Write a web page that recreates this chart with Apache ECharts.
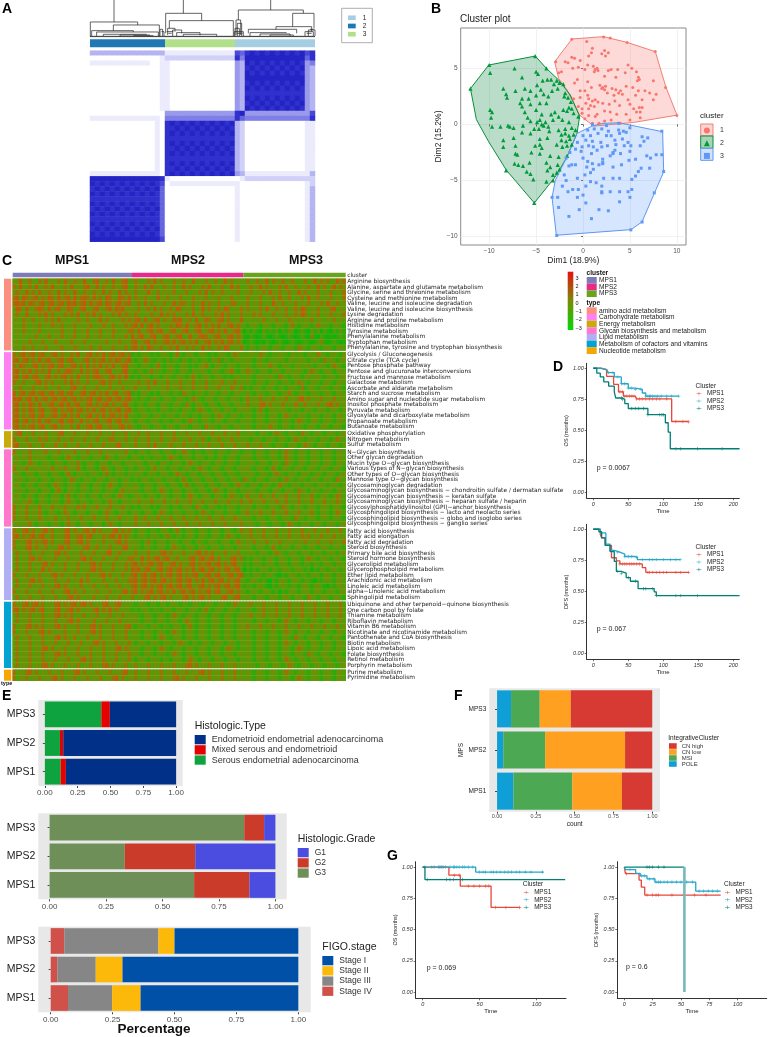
<!DOCTYPE html>
<html><head><meta charset="utf-8">
<style>html,body{margin:0;padding:0;background:#fff}#c{width:768px;height:1037px}</style>
<script src="https://cdn.jsdelivr.net/npm/echarts@6/dist/echarts.min.js"></script>
</head><body><div id="c"></div>
<script>
// ---------- Panel A data ----------
const consensusLevels = [
"33333333333333|3|1|1111111111111|7|6|898989898989|7|8",
"00000000000000|1|2|2222222222222|8|5|999999999999|6|8",
"11111111111100|1|1|0000000000000|4|3|989898989898|4|5",
"00000000000000|1|1|0000000000000|4|3|898989898989|4|3",
"00000000000000|1|1|0000000000000|4|3|989898989898|4|3",
"00000000000000|1|1|0000000000000|4|3|999999999999|4|3",
"00000000000000|1|1|0000000000000|4|3|898989898989|4|3",
"00000000000000|1|1|0000000000000|4|3|989898989898|4|3",
"00000000000000|1|1|0000000000000|4|3|888888888888|4|3",
"00000000000000|1|1|0000000000000|4|3|989898989898|4|3",
"00000000000000|1|1|0000000000000|4|3|898989898989|4|3",
"00000000000000|1|1|0000000000000|4|3|989898989898|4|3",
"00000000000000|0|4|4444444444444|8|9|444444444444|4|7",
"11111111111111|0|5|5555555555555|8|6|555555555555|5|8",
"00000000000001|0|8|9898989898989|3|2|000000000000|1|1",
"00000000000001|0|8|8989898989898|3|2|000000000000|1|1",
"00000000000001|0|8|9898989898989|3|2|000000000000|1|1",
"00000000000001|0|8|8888888888888|3|2|000000000000|1|1",
"00000000000001|0|8|9898989898989|3|2|000000000000|1|1",
"00000000000001|0|8|8989898989898|3|2|000000000000|1|1",
"00000000000001|0|8|9898989898989|3|2|000000000000|1|1",
"00000000000001|0|8|8888888888888|3|2|000000000000|1|1",
"00000000000001|0|8|9898989898989|3|2|000000000000|1|1",
"00000000000001|0|8|8989898989898|3|2|000000000000|1|1",
"11111111111111|0|8|9898989898989|4|3|111111111111|1|3",
"99999999999999|8|1|0000000000000|0|1|222222222222|2|2",
"98989898989898|7|0|1111111111111|1|0|000000000000|1|2",
"89898989898989|6|0|0000000000000|1|0|000000000000|1|3",
"98989898989898|6|0|0000000000000|1|0|000000000000|1|3",
"88888888888888|6|0|0000000000000|1|0|000000000000|1|3",
"98989898989898|6|0|0000000000000|1|0|000000000000|1|3",
"89898989898989|6|0|0000000000000|1|0|000000000000|1|3",
"98989898989898|6|0|0000000000000|1|0|000000000000|1|3",
"88888888888888|6|0|0000000000000|1|0|000000000000|1|3",
"98989898989898|6|0|0000000000000|1|0|000000000000|1|3",
"89898989898989|6|0|0000000000000|1|0|000000000000|1|3",
"98989898989898|6|0|0000000000000|1|0|000000000000|1|3",
"99999999999999|7|0|0000000000000|1|0|000000000000|1|3"
];
const consensusCounts = [75, 70, 80];
const consensusTree = [
[342,0,342,66],[550,0,550,40],[812,0,812,30],
[271,66,413,66],[271,66,271,110],[413,66,413,75],[340,75,478,75],[340,75,340,92],[478,75,478,108],[275,92,400,92],[275,92,275,108],[400,92,400,96],[290,96,475,96],[290,96,290,108],[475,96,475,110],[310,103,440,103],[310,103,310,108],[360,105,450,105],[360,105,360,108],[400,107,460,107],[480,88,488,88],[480,88,480,108],[488,88,488,108],[484,95,492,95],[492,95,492,108],
[497,40,605,40],[497,40,497,100],[605,40,605,62],[508,62,700,62],[508,62,508,85],[700,62,700,108],[503,85,525,85],[503,85,503,105],[525,85,525,95],[518,90,545,90],[518,90,518,108],[545,90,545,100],[530,98,600,98],[530,98,530,108],[600,98,600,106],[550,103,650,103],[550,103,550,108],[650,103,650,108],[500,95,520,95],[505,100,515,100],
[715,30,910,30],[715,30,715,60],[910,30,910,40],[878,40,942,40],[878,40,878,80],[942,40,942,85],[828,80,935,80],[828,80,828,88],[935,80,935,95],[745,88,890,88],[745,88,745,100],[890,88,890,100],[708,60,722,60],[708,60,708,105],[722,60,722,105],[712,70,725,70],[712,70,712,108],[725,70,725,108],[705,85,718,85],[705,85,705,108],[718,85,718,108],[703,95,730,95],[703,95,703,108],[730,95,730,108],[710,100,728,100],[750,98,860,98],[750,98,750,108],[780,102,870,102],[780,102,780,108],[870,102,870,108],[810,105,880,105],[810,105,810,108],[880,105,880,108],[915,95,940,95],[915,95,915,108],[940,95,940,108],[925,90,945,90],[925,90,925,108],[945,90,945,108],[920,100,935,100],[930,88,943,88],
[270,110,945,110],[270,109,945,109]
];

// ---------- Panel B data ----------
const hull1 = [[-3.02,5.6],[-1.17,7.62],[2.2,7.83],[2.91,7.68],[4.69,7.32],[7.71,6.49],[8.85,3.3],[10.02,0.83],[5.4,0.18],[1.14,-0.15],[-0.36,0.83],[-1.7,3.07],[-2.6,4.1]];
const hull2 = [[-12,3.2],[-10.05,5.3],[-5.08,6.1],[-3.91,5],[-2.59,3.96],[-1.35,2.62],[-0.36,0.74],[-0.64,-0.8],[-1.7,-2.89],[-2.95,-4.67],[-5.19,-7],[-8.17,-4.08],[-10.05,-1.55],[-11.37,0.44]];
const hull3 = [[-3.3,-6.52],[-2.84,-9.88],[5.12,-9.38],[6.29,-8.69],[7.64,-6.07],[8.6,-4.23],[8.49,-0.65],[3.8,0.15],[2.02,0.09],[0.96,-0.15],[-0.64,-0.8],[-1.7,-2.89],[-2.95,-4.97]];
const points1 = [[-2.9,5.6],[-1.2,7.6],[0.4,7.4],[2.2,7.8],[2.9,7.7],[4.7,7.3],[7.7,6.5],[8.8,3.3],[10,0.8],[1,6.8],[0.9,6.4],[0.6,6.1],[2,6.3],[2.3,6.6],[2.7,6.4],[2.4,6.1],[-1.2,6],[-0.9,5.9],[-1.9,5.6],[-1.6,5.5],[-0.3,5.7],[0.5,5.3],[-0.5,5.1],[-1.1,5],[-2.6,4.6],[-2.3,4.7],[0.2,4.9],[1.1,5.2],[1.3,4.9],[1.5,5],[1.6,4.8],[1.2,4.7],[2.7,4.8],[3,4.9],[3.7,4.9],[4.8,5.3],[5.2,5],[4.5,4.6],[5.7,4.7],[2.3,4.3],[3.5,4.2],[5.9,4.2],[6,4],[5.8,3.9],[7.5,3.9],[-0.6,4],[-0.9,3.7],[0.5,3.8],[0.9,3.3],[1.8,3.5],[2.1,3.3],[2.4,3.4],[2.3,3.1],[2,3.2],[3.1,3.2],[3.5,3.1],[4,3],[3.8,2.8],[4.2,2.7],[3.3,2.6],[2.6,2.8],[4.6,3.4],[5.3,3.3],[5.9,3],[6.6,3],[7.1,2.8],[7.8,2.7],[5.6,2.6],[4.8,2.2],[6.3,2.2],[7.5,2.2],[-0.3,3],[0.2,3],[0.5,2.6],[-0.3,2.4],[-1,2.3],[0.6,2.3],[1,2.1],[1.3,2.2],[1.6,2],[0.3,1.9],[0.8,1.7],[-0.5,1.6],[-0.1,1.4],[0.6,1.4],[1.2,1.6],[2.1,1.9],[2.8,1.8],[3.4,2.1],[3.9,1.7],[5,1.8],[5.4,1.4],[6,1.5],[6.3,1.5],[2.3,1.2],[2.9,1.1],[3.6,0.9],[4.6,0.9],[5.7,1.1],[6.1,1.1],[6.1,0.6],[5,0.4],[1.3,0.7],[1.5,0.9],[0.6,0.8],[0.2,0.5],[-0.1,1],[2.3,0.3],[3,0.4],[1,0.1],[1.7,0.1],[4,0.1]];
const points2 = [[-12,3.2],[-10,5.3],[-5.1,6.1],[-7.3,5],[-5,4.7],[-4.8,4.5],[-9.9,4.6],[-6.5,4.2],[-3.9,5],[-4.3,3.9],[-3.8,4],[-3.4,4],[-8.5,3.2],[-7.2,3],[-6.2,3.2],[-5.6,3],[-4.9,3.5],[-4.5,3.1],[-3.1,3.6],[-2.8,3.9],[-2.5,3.7],[-2.1,3.6],[-3.3,3],[-2.7,3.2],[-1.9,2.8],[-2,2.5],[-1.6,2.4],[-1.3,2],[-8.2,2.7],[-8.1,2.4],[-6.5,2.3],[-5.8,2.3],[-5,2.6],[-4.2,2.7],[-3.7,2.5],[-6.7,1.9],[-6.5,1.6],[-5.6,1.8],[-4.6,1.9],[-3.9,1.9],[-9.9,1.3],[-9.7,1.1],[-9.8,0.6],[-6.2,1.1],[-5,1.3],[-4.4,0.9],[-3.4,0.9],[-3,1.1],[-2.1,1.3],[-1.7,1.2],[-1.5,1.5],[-1.2,1.4],[-1,1],[-2.6,0.7],[-0.5,0.7],[-5.9,0.6],[-5.6,0.3],[-4.9,0.2],[-4.6,0.4],[-4,0.2],[-4.4,0],[-4.2,-0.1],[-3.7,-0.2],[-3.2,0.4],[-2.2,0.4],[-1.5,0.2],[-9.7,-0.2],[-8.8,-0.2],[-8,-0.1],[-7.8,-0.2],[-7.4,-0.3],[-6.4,-0.1],[-5.2,-0.4],[-4.7,-0.4],[-3.6,-0.6],[-2.6,-0.5],[-1.9,-0.4],[-1.2,-0.3],[-0.8,-0.5],[-6.5,-0.7],[-5.6,-0.8],[-2.3,-0.9],[-1.9,-0.8],[-1.5,-1],[-1,-0.9],[-8.5,-1.4],[-7.4,-1.2],[-4.6,-1.3],[-3.8,-1.2],[-2.3,-1.4],[-1.8,-1.5],[-1.4,-1.3],[-8.5,-2],[-7.2,-1.9],[-5.1,-1.9],[-4.6,-1.8],[-4.4,-2.1],[-2.8,-1.8],[-2.2,-2],[-1.7,-1.9],[-1.2,-1.8],[-7.2,-2.6],[-7,-2.7],[-5.5,-2.5],[-4.6,-2.6],[-3.5,-2.8],[-2.6,-2.9],[-1.7,-2.8],[-7.3,-3.5],[-6.9,-3.6],[-6.4,-3.7],[-5.7,-3.4],[-3.9,-3.4],[-3.5,-3.8],[-2.7,-3.6],[-8.2,-4.1],[-6,-4.2],[-5.6,-4.4],[-3.8,-4.1],[-3.2,-4.5],[-2.8,-4.3],[-2.5,-4],[-5.3,-4.9],[-3.9,-5.1],[-3.2,-5],[-5.2,-7]];
const points3 = [[-3.3,-6.5],[-2.8,-9.9],[5.1,-9.4],[6.3,-8.7],[7.6,-6.1],[8.6,-4.2],[8.4,-2.7],[8.4,-0.6],[-2.6,-7.4],[-1.5,-8.2],[-0.4,-7.6],[0.9,-8.4],[1.7,-7.6],[2.7,-7.7],[3.9,-6.9],[5,-6.5],[-2.7,-6.5],[-1.6,-6],[-0.6,-6.5],[0,-6.3],[0.3,-7],[2,-6.1],[2.9,-6],[3.9,-6],[4.8,-6],[5.2,-5.8],[-2.2,-5.5],[-1.8,-5],[-1.1,-5.8],[-0.5,-5.8],[0.3,-5.5],[0.8,-5.1],[1.4,-5.2],[2,-5.5],[2,-6],[-2,-4.5],[-0.6,-4.8],[0.2,-4.5],[0.8,-4.3],[1.1,-4],[2.2,-4.8],[3.2,-4.8],[3.9,-4.8],[5.2,-4.9],[5.6,-4.6],[-1.5,-3.7],[-1.2,-3.6],[0.4,-3.8],[1,-3.5],[1.7,-3.6],[2.1,-3.4],[2.1,-3.5],[3.2,-3.8],[4.1,-3.6],[5.9,-4.2],[6.2,-3.9],[7.1,-3.9],[-1.8,-3],[-0.8,-3.6],[0,-3],[0.5,-3.3],[2.1,-3.1],[2.9,-2.8],[3.2,-2.5],[4.9,-3.2],[5.6,-3.1],[7.2,-3],[7.8,-2.7],[-1.4,-2.5],[-0.2,-2.4],[0.9,-2.6],[1.5,-2.3],[3.2,-2.6],[3.4,-2.3],[4,-2.6],[5,-2.4],[6.8,-2.8],[-0.8,-2.2],[-0.1,-2],[0.6,-1.9],[1.1,-2],[2,-2],[2.6,-1.9],[3.5,-1.8],[4.4,-1.9],[5.1,-1.9],[6.1,-1.9],[-0.6,-1.6],[0.3,-1.4],[1,-1.5],[1.9,-1.6],[3.4,-1.4],[4.2,-1.3],[4.8,-1.6],[6.5,-1.5],[0,-1],[0.8,-1],[1.6,-0.8],[2.5,-1],[3,-1],[3.9,-0.8],[4.6,-0.7],[6.3,-1.1],[6.9,-1.2],[0.5,-0.5],[1.2,-0.4],[2,-0.4],[2.7,-0.6],[3.8,-0.5],[4.3,-0.6],[5,-0.3],[1,0],[2.5,-0.1],[3.8,0.1]];

// ---------- Panel C data ----------
const pathwayNames = [
["Arginine biosynthesis","Alanine, aspartate and glutamate metabolism","Glycine, serine and threonine metabolism","Cysteine and methionine metabolism","Valine, leucine and isoleucine degradation","Valine, leucine and isoleucine biosynthesis","Lysine degradation","Arginine and proline metabolism","Histidine metabolism","Tyrosine metabolism","Phenylalanine metabolism","Tryptophan metabolism","Phenylalanine, tyrosine and tryptophan biosynthesis"],
["Glycolysis / Gluconeogenesis","Citrate cycle (TCA cycle)","Pentose phosphate pathway","Pentose and glucuronate interconversions","Fructose and mannose metabolism","Galactose metabolism","Ascorbate and aldarate metabolism","Starch and sucrose metabolism","Amino sugar and nucleotide sugar metabolism","Inositol phosphate metabolism","Pyruvate metabolism","Glyoxylate and dicarboxylate metabolism","Propanoate metabolism","Butanoate metabolism"],
["Oxidative phosphorylation","Nitrogen metabolism","Sulfur metabolism"],
["N−Glycan biosynthesis","Other glycan degradation","Mucin type O−glycan biosynthesis","Various types of N−glycan biosynthesis","Other types of O−glycan biosynthesis","Mannose type O−glycan biosynthesis","Glycosaminoglycan degradation","Glycosaminoglycan biosynthesis − chondroitin sulfate / dermatan sulfate","Glycosaminoglycan biosynthesis − keratan sulfate","Glycosaminoglycan biosynthesis − heparan sulfate / heparin","Glycosylphosphatidylinositol (GPI)−anchor biosynthesis","Glycosphingolipid biosynthesis − lacto and neolacto series","Glycosphingolipid biosynthesis − globo and isoglobo series","Glycosphingolipid biosynthesis − ganglio series"],
["Fatty acid biosynthesis","Fatty acid elongation","Fatty acid degradation","Steroid biosynthesis","Primary bile acid biosynthesis","Steroid hormone biosynthesis","Glycerolipid metabolism","Glycerophospholipid metabolism","Ether lipid metabolism","Arachidonic acid metabolism","Linoleic acid metabolism","alpha−Linolenic acid metabolism","Sphingolipid metabolism"],
["Ubiquinone and other terpenoid−quinone biosynthesis","One carbon pool by folate","Thiamine metabolism","Riboflavin metabolism","Vitamin B6 metabolism","Nicotinate and nicotinamide metabolism","Pantothenate and CoA biosynthesis","Biotin metabolism","Lipoic acid metabolism","Folate biosynthesis","Retinol metabolism","Porphyrin metabolism"],
["Purine metabolism","Pyrimidine metabolism"]
];
const typeNames = ["amino acid metabolism","Carbohydrate metabolism","Energy metabolism","Glycan biosynthesis and metabolism","Lipid metabolism","Metabolism of cofactors and vitamins","Nucleotide metabolism"];
const typeColors = ["#fb8f80","#ff80f2","#c8aa08","#ff78cc","#b0aef5","#00a3d2","#f6a600"];
const heatGroup1 = [
"3493483284934382943843942893482934892|3842384938242843842934284382493824384|38248349284392483248249384823948",
"8394382934849343829343894392843843892|2843929342843824938243849243824938243|24834938243829438243842938249384",
"3843948293484392843942843843928439284|3824394283434824382438292843842438248|43824382943824823948243824382438",
"8939848938498394893948983948298439849|2843824294382438242834382438243824294|38243824382943824382943824382438",
"8989398489389489398948939489398489489|2382938243824938843824938438243882438|38243824294382438243824382943824",
"3982934898394893498348934893489398934|4382482938248398243824938248398243824|38243829438438248398243824389243",
"3842934384938243848392484938243849384|3842438249384824382934824384938243843|24384824382438248398243824382438",
"3428438243848393424384383249384243848|4892934892843989348293498348938243934|23424382438243843424382432438243",
"3428424382438438243824348243843824384|8939289383428398493489283849348938438|21342134213421382134213843213421",
"3428424382342438243824382438243842438|8393489389238934893489348938493489384|02121031213021420121031302102131",
"2434243824382438243824382438243824382|9389348934893489239348983489348938493|10210121012101210121061021010121",
"3424382438243842438243824324382438243|8934893843894938938493489384938938493|01210102101210121012101261012101",
"3428438243824348243842438248243824382|8938298348248393483824938248398243824|21421342134213421842134213421342"
];
const heatGroup2 = [
"8389489389348938438493489384938948938|1213421213421382134213421213421384213|32432842132432142321423842134214",
"8938938493893489389243893848938498389|2132842132141321421321321428132134213|34213421323421342342134218342134",
"8398438938489389348938293849384934893|3213421382134213421213482134213421342|24213423842134213423421342138421",
"8938493848393483898439384893489243893|2142138242134213421423421342134821342|38421342134213423421384213421342",
"8938938943893848938293483898438938493|1213421321342134213821342134212134213|24213423421842134213423421342134",
"8438243893848243849384382438938438243|4382482934282438243824282434824382438|24213421342134213842134213421342",
"4382438243824382438943824382438243824|3824284324382438243824382438242843824|12134213421321342181342134213421",
"9389389489389489389348938938493893489|1213421213421321842134213421342134213|24213421342134821342134213421342",
"9893893948938948938938489389389489389|3214213421342134213842134213421342134|38243824382438243893824382438243",
"8938498393489389493893489384893843893|2132134213421342182134213421342134213|38243893824382438438243824893824",
"8938498389348938489389384938938489389|2134213213421321342138421342134213421|34213821342342134213421342134213",
"8938489389348938938493489384938938493|3213421342134213421321342138421342134|24213421342138421342134213421342",
"8938938493893489389349384893489389384|2134213421321342138421342134213421321|24213421342134213842134213421342",
"8938489389348938438293489389348438938|3213421342134213421342183421342134213|24213423842134213421342134213421"
];
const heatGroup3 = [
"4892438243824389243824382438243824382|4382482438243824282438243824382438243|23421342138421342184213421342134",
"8243824384824382438243824382438824382|3824382438243842438243821438243824382|32134213421342138421342134213842",
"8924382438243843824382438243824389243|3824382934248243824382438243824382438|38243824213421342138421342134213"
];
const heatGroup4 = [
"8324382434824382434824382438243424382|2134213421342132842132134213421342134|24213421342138421342134213421342",
"3424382434213421384213421342184213421|3421321342138421342134213214213421342|34213421342138421342134213421342",
"3421384213421342134282134213421342134|2342134213421342138421342134213421342|23421342134218421342134213421342",
"8243824342438243824382134213842134213|2134213824213421342138421342134213421|34213421382134213421342134213421",
"3421342134213421382134213421382134213|2342134213421384213421342134213421342|23421342138421342134213421342134",
"2342134213421342138421342134213421342|1213421342134213821342134213421342134|84213421342138421342134213421842",
"3421342134213842134213421342138421342|3421342134213421382134213421342138421|21342134213842134213421342134213",
"2342134213421382134213421342134213824|3421342138421342134213421384213421342|23421342134213421842134213421342",
"3421342134213421382134213421342138421|2342134213421342138421342134213842134|48243824382438243824382134213842",
"3424382134213421384213421342138421342|4382438243824382438243824382438243824|34824382438438243824382438243842",
"8243824382438243824384824382438243824|1213421213421321342184213421213421342|24213421342184213421342134213421",
"8243824382134213842134213421384213421|3421342138421342134213842134213421342|48243824382438243824382134213842",
"8243824384243824382438243824382438243|3843824382438243824382438243824384382|24213421342134218421342134213421",
"3424382134213421384213421342138421342|3824382438243824382438243824382434824|23421342134213842134213421342134"
];
const heatGroup5 = [
"8438938438948243893843894938243893848|2134213213421382134213421342134213821|34824382438243824382438243824382",
"8938489389348243893489389243848939384|2134213421382132134213421342138421342|34824382438243824384824382438243",
"8243893848938243893489384243824389384|3421382134213421342134213421342138421|24382438243824342438243824382438",
"8243893843824389384243893482438243893|3421342134213842134213421342134213421|24213421382134213421342134213421",
"3824382438243893842438243824389348243|3824382438948243824389384824382438243|23421342138421342134213421342134",
"3824389384243824382438948243824382438|8439384894893482438938948938243893848|12134213421342134213842134213421",
"3824382438938243824382438938243824384|8938489389348938438938489389384893489|12134213421342134213214213421342",
"3824382439384243824382438948243824382|9893893489389489384938948938489389348|02121342132134213421302142134213",
"8243824382438938243824382438938243824|8938948938489389384893489389348938948|12134213421021342132134213421342",
"3824389384243824382439384243824382438|8938948938948389489384938948938489389|21342131021342134213210213421342",
"3824382438243893842438243824382438243|8938938489389489389348938489389489389|13213421021342132134213421021342",
"8243824382438243893843824382438243893|8938489389384938948938489389348938489|21342134213021342134213421342134",
"3824382438243824389384243824382438243|8243893848938243893848938243893489384|24213421342134213421842134213421"
];
const heatGroup6 = [
"8438938948243893848938948243893489243|2134213214213421321342134213421384213|34824382438243824382438243824382",
"8938489389243893489384243893849384243|1213421321342134213421382134213421342|34213482438243824382438243824382",
"3824382438243893848243824382438243824|3421342134213842134213421342134213421|34824382438243824382438243824382",
"3824382438243824389384243824382438243|3421342134213421384213421342134213421|24213421342138421342134213421342",
"8243893848243893824382438938243824389|2134213421321342138213421342134213421|48243824382438243824382438243824",
"8243824389384243824382438938243824382|3421342134213842134213421342134213421|24213421342138421342134213421342",
"3824382438243893843824382438243824382|3421342138421342134213421342134213421|24213421342134218421342134213421",
"3824382438243824382438243893824382438|2134213421342138421321342134213421342|24213421342138421342134213421342",
"3824382438938243824382438243824389384|3421342138421342134213421342138421342|24213421342134213842134213421342",
"3824382438243893824382438243824382438|3421342134213842134213421342134213421|24213421342134213421842134213421",
"3824382438243824382438938243824382438|2134213421321342138421342134213421342|24213421342138421342134213421342",
"3824382438938243824382438243893824382|3824382438243824389382438243824382438|23421342134213842134213421342134"
];
const heatGroup7 = [
"8243893824382438243893824382438243893|3824382438243824382438938243824382438|24213421342138421342134213421342",
"8243824382438938243824382438243893824|3824382438243893824382438243824382438|24213421342134213842134213421342"
];
const heatGroups = [heatGroup1,heatGroup2,heatGroup3,heatGroup4,heatGroup5,heatGroup6,heatGroup7];
const clusterSizes = [37,35,32];
const clusterColors = ["#7d7bb8","#e7298a","#6aa31e"];
const colorbarTicks = ["3","2","1","0","−1","−2","−3"];

// ---------- Panel D / G data ----------
const osMPS1 = [[0,1],[10,.99],[19,.935],[29,.87],[36,.81],[43,.775],[60,.765],[62,.752],[112,.57],[136,.567]];
const osMPS2 = [[0,1],[12,.985],[20,.965],[30,.93],[40,.875],[50,.84],[60,.83],[70,.8],[75,.775],[122,.775]];
const osMPS3 = [[0,1],[5,.96],[10,.93],[15,.89],[22,.855],[30,.81],[32,.76],[42,.75],[45,.715],[50,.675],[78,.625],[103,.56],[107,.485],[110,.35],[209,.35]];
const dfsMPS1 = [[0,1],[10,.96],[12,.93],[17,.87],[26,.77],[33,.745],[38,.72],[70,.69],[75,.652],[136,.652]];
const dfsMPS2 = [[0,1],[10,.97],[18,.88],[24,.83],[30,.815],[38,.8],[45,.78],[60,.775],[63,.755],[124,.755]];
const dfsMPS3 = [[0,1],[8,.98],[12,.93],[17,.87],[24,.82],[30,.74],[33,.66],[40,.645],[47,.61],[53,.58],[64,.52],[87,.495],[90,.464],[209,.464]];
const gOsMPS1 = [[0,1],[23,.935],[33,.848],[60,.677],[85,.677]];
const gOsMPS2 = [[0,1],[46.5,.96],[106,.96]];
const gOsMPS3 = [[0,1],[2,.9],[125,.9]];
const gDfsMPS1 = [[0,1],[1,.947],[13,.896],[15,.84],[18,.776],[85,.776]];
const gDfsMPS2 = [[0,1],[1,.98],[10,.95],[14,.93],[20,.905],[27,.88],[63,.808],[85,.808]];
const gDfsMPS3 = [[0,1],[53,1]];
const gDfsDrop = [[53,1],[53,0]];
const censorOs = [[38,42,45,48,52,55,58,62,66,70,75,80,85,90,95,105,118,128,136],[22,28,35,40,45,50,55,60,68,75,78,80,82,85,88,92,97,105,112,122],[40,42,55,60,65,72,78,95,98,100,118,125,149,184]];
const censorDfs = [[38,42,45,48,52,55,58,62,66,78,80,85,90,95,100,105,118,125,136],[25,35,45,50,55,62,70,80,85,90,100,110,118,124],[35,40,50,60,72,75,85,90,118,125,149]];
const censorGOs = [[28,32,40,45,50,55,58,64,73,85],[2,8,10,14,15,16,17,18,20,24,27,28,30,32,35,37,40,44,50,53,55,60,62,65,68,72,75,78,82,85,90,95,105],[4,21,24,27,35]];
const censorGDfs = [[2,20,25,28,30,42,52,62,72],[5,15,18,22,26,28,30,32,35,38,42,46,50,55,60,66,70,74,78,82],[20,22,25,30,35]];
const kmNames = ["MPS1","MPS2","MPS3"];
const kmColors = ["#e8483a","#25a7c9","#007f75"];

// ---------- Panel E / F data ----------
const mpsCategories = ["MPS1","MPS2","MPS3"];
const typeSerous = [.12,.115,.43];
const typeMixed = [.04,.025,.065];
const typeEndo = [.84,.86,.505];
const gradeG3 = [.64,.333,.862];
const gradeG2 = [.245,.312,.088];
const gradeG1 = [.115,.355,.05];
const stageIV = [.07,.027,.055];
const stageIII = [.178,.155,.38];
const stageII = [.115,.108,.065];
const stageI = [.637,.71,.5];
const icPole = [.105,.04,.09];
const icMsi = [.38,.27,.185];
const icCnLow = [.32,.515,.2];
const icCnHigh = [.195,.175,.525];
const shareTicks = [0,.25,.5,.75,1];

// ---------- builders ----------
const FONT = '"Liberation Sans", Arial, sans-serif';
const grids=[],xs=[],ys=[],series=[],legends=[],graphics=[],visualMaps=[];
function panel(g,x,y){
  const i=grids.length;
  grids.push(Object.assign({outerBoundsMode:'none',containLabel:false,borderWidth:0},g));
  xs.push(Object.assign({gridIndex:i},x)); ys.push(Object.assign({gridIndex:i},y));
  return i;
}
function text(t,x,y,size,o){
  o=o||{};
  graphics.push({type:'text',silent:true,z:6,rotation:o.rot||0,x,y,style:{text:t,x:0,y:0,
    font:(o.weight?o.weight+' ':'')+size+'px '+FONT,fill:o.color||'#222',
    textAlign:o.align||'left',textVerticalAlign:'middle'}});
}
function rect(x,y,w,h,fill,stroke,z){
  graphics.push({type:'rect',silent:true,z:z||0,shape:{x,y,width:w,height:h},style:{fill,stroke:stroke||null,lineWidth:stroke?1:0}});
}

// Panel letters
[["A",2,9],["B",431,9],["C",2,261],["D",553,367],["E",2,696],["F",454,696],["G",387,856]].forEach(a=>text(a[0],a[1],a[2],14,{weight:'bold',color:'#000'}));

// ---------- Panel A ----------
(function(){
  const g=panel({left:90,top:0,width:225,height:37.3},
    {type:'value',min:270,max:945,show:false},{type:'value',min:0,max:112,inverse:true,show:false});
  series.push({type:'custom',silent:true,xAxisIndex:g,yAxisIndex:g,data:consensusTree,clip:false,
    renderItem:(p,api)=>{const a=api.coord([api.value(0),api.value(1)]),b=api.coord([api.value(2),api.value(3)]);
      return {type:'line',shape:{x1:a[0],y1:a[1],x2:b[0],y2:b[1]},style:{stroke:'#222',lineWidth:.7}};}});
  const b=panel({left:90,top:39.3,width:225,height:8},
    {type:'value',min:0,max:225,show:false},{type:'category',data:['annotation'],show:false});
  [['consensus 2',consensusCounts[0],'#1f78b4'],['consensus 3',consensusCounts[1],'#b2df8a'],['consensus 1',consensusCounts[2],'#a6cee3']].forEach(s=>{
    series.push({type:'bar',name:s[0],stack:'anno',silent:true,xAxisIndex:b,yAxisIndex:b,barWidth:'100%',data:[s[1]],itemStyle:{color:s[2]}});
  });
  const rows=consensusLevels.map(r=>r.replace(/\|/g,''));
  const h=panel({left:90,top:50.7,width:225,height:191},
    {type:'category',show:false,data:rows[0].split('').map((_,i)=>i)},
    {type:'category',show:false,inverse:true,data:rows.map((_,i)=>i)});
  const cells=[];
  rows.forEach((row,r)=>row.split('').forEach((c,k)=>cells.push([k,r,+c])));
  visualMaps.push({show:false,type:'continuous',seriesIndex:series.length,min:0,max:9,dimension:2,
    inRange:{color:['#ffffff','#ebebfc','#d0d0f8','#b4b4f2','#9a9aec','#7e7ee6','#6464de','#4848d6','#3030cc','#2424c4']}});
  series.push({type:'heatmap',silent:true,xAxisIndex:h,yAxisIndex:h,data:cells,progressive:0,emphasis:{disabled:true}});
  legends.push({left:341.7,top:8.3,orient:'vertical',selectedMode:false,itemWidth:7.7,itemHeight:4.7,itemGap:1.2,
    padding:[6,6,5,6.3],borderColor:'#999',borderWidth:.8,icon:'rect',
    data:['consensus 1','consensus 2','consensus 3'],formatter:n=>n.replace('consensus ',''),
    textStyle:{fontSize:6.5,color:'#222',fontFamily:FONT,padding:[0,0,0,2],lineHeight:7}});
})();

// ---------- Panel B ----------
(function(){
  const axisBase={type:'value',axisLine:{show:false},splitLine:{show:true,lineStyle:{color:'#ebebeb',width:.7}}};
  const fmt=v=>String(v).replace('-','−');
  const g=panel({left:460.7,top:28,width:225.3,height:217,show:true,borderWidth:1,borderColor:'#8a8a8a',backgroundColor:'#fff'},
    Object.assign({},axisBase,{min:-13.04,max:10.98,name:'Dim1 (18.9%)',nameLocation:'middle',nameGap:10,
      nameTextStyle:{fontSize:8.5,color:'#222',fontFamily:FONT},
      axisTick:{length:2,lineStyle:{color:'#666'},customValues:[-10,-5,0,5,10]},
      axisLabel:{fontSize:6.5,color:'#555',fontFamily:FONT,margin:3,customValues:[-10,-5,0,5,10],formatter:fmt}}),
    Object.assign({},axisBase,{min:-10.75,max:8.6,name:'Dim2 (15.2%)',nameLocation:'middle',nameGap:15,
      nameTextStyle:{fontSize:8.5,color:'#222',fontFamily:FONT},
      axisTick:{length:2,lineStyle:{color:'#666'},customValues:[-10,-5,0,5]},
      axisLabel:{fontSize:6.5,color:'#555',fontFamily:FONT,margin:3,customValues:[-10,-5,0,5],formatter:fmt}}));
  [[hull1,'rgba(248,118,109,.27)','#ef8079'],[hull2,'rgba(0,130,60,.27)','#0a8f3c'],[hull3,'rgba(97,156,255,.25)','#5e97f0']].forEach(h=>{
    series.push({type:'custom',silent:true,xAxisIndex:g,yAxisIndex:g,data:[0],
      renderItem:(p,api)=>({type:'polygon',shape:{points:h[0].map(q=>api.coord(q))},style:{fill:h[1],stroke:h[2],lineWidth:1}})});
  });
  [['cluster 1',points1,'circle',3,'#f8766d'],['cluster 2',points2,'triangle',4.2,'#019a3a'],['cluster 3',points3,'rect',3,'#5f98f5']].forEach(s=>{
    series.push({type:'scatter',name:s[0],silent:true,xAxisIndex:g,yAxisIndex:g,data:s[1],symbol:s[2],symbolSize:s[3],itemStyle:{color:s[4],opacity:1}});
  });
  text('Cluster plot',460,19,10);
  text('cluster',700,116,8);
  rect(700.7,124,12.3,12,'#fbd6d3','#ef8079');
  rect(700.7,136,12.3,12.3,'#a8d5b8','#0a8f3c');
  rect(700.7,148.3,12.3,12,'#d3e2fb','#5e97f0');
  legends.push({left:703.9,top:127,orient:'vertical',selectedMode:false,itemWidth:6,itemHeight:6,itemGap:5.7,padding:0,
    data:[{name:'cluster 1',icon:'circle'},{name:'cluster 2',icon:'triangle'},{name:'cluster 3',icon:'rect'}],
    formatter:n=>n.replace('cluster ',''),
    textStyle:{fontSize:7,color:'#333',fontFamily:FONT,padding:[0,0,0,5],lineHeight:6}});
})();

// ---------- Panel C ----------
(function(){
  const left=12.7,width=333,top=278.7,total=402,gap=0.3;
  const rowCount=pathwayNames.reduce((a,b)=>a+b.length,0);
  const units=rowCount+gap*(pathwayNames.length-1), rowH=total/units;
  const colTotal=clusterSizes.reduce((a,b)=>a+b,0);
  const colCats=Array.from({length:colTotal},(_,i)=>i);
  const labelStyle={fontSize:5.9,color:'#222',fontFamily:'"DejaVu Sans", sans-serif',margin:1.5};
  const cg=panel({left,top:272.7,width,height:4.6},
    {type:'value',min:0,max:colTotal,show:false},
    {type:'category',data:['cluster'],position:'right',axisLine:{show:false},axisTick:{show:false},axisLabel:labelStyle});
  clusterSizes.forEach((v,i)=>series.push({type:'bar',name:'strip '+i,stack:'strip',silent:true,xAxisIndex:cg,yAxisIndex:cg,barWidth:'100%',data:[v],itemStyle:{color:clusterColors[i]}}));
  const heatIdx=[];
  let y=top;
  const spans=[];
  let u=0;
  pathwayNames.forEach((names,gi)=>{
    const h=names.length*rowH;
    const g=panel({left,top:y,width,height:h,show:true,backgroundColor:'#7b8906',borderWidth:0},
      {type:'category',show:false,data:colCats},
      {type:'category',inverse:true,position:'right',data:names,axisLine:{show:false},axisTick:{show:false},
        axisLabel:Object.assign({interval:0},labelStyle)});
    const cells=[];
    heatGroups[gi].forEach((row,r)=>{
      const parts=row.split('|');let off=0;
      parts.forEach((p,pi)=>{for(let k=0;k<p.length&&k<clusterSizes[pi];k++)cells.push([off+k,r,+p[k]]);off+=clusterSizes[pi];});
    });
    heatIdx.push(series.length);
    series.push({type:'heatmap',silent:true,xAxisIndex:g,yAxisIndex:g,data:cells,progressive:0,emphasis:{disabled:true}});
    for(let r=1;r<names.length;r++) rect(left,y+r*rowH-.2,width,.5,'rgba(205,195,90,.4)',null,6);
    spans.push([u,u+names.length,gi]);
    u+=names.length+gap; y+=h+gap*rowH;
  });
  visualMaps.push({show:false,type:'continuous',seriesIndex:heatIdx,min:0,max:9,dimension:2,
    inRange:{color:['#0cb40c','#2ea80a','#4f9f08','#5f9807','#6f9006','#7a8a05','#857f06','#927806','#9e7106','#bc5c0a']}});
  const tg=panel({left:4,top,width:7.3,height:total},
    {type:'value',min:0,max:1,show:false},{type:'value',min:0,max:units,inverse:true,show:false});
  series.push({type:'custom',silent:true,xAxisIndex:tg,yAxisIndex:tg,data:spans,
    renderItem:(p,api)=>{const a=api.coord([0,api.value(0)]),b=api.coord([1,api.value(1)]);
      return {type:'rect',shape:{x:a[0],y:a[1],width:b[0]-a[0],height:b[1]-a[1]},style:{fill:typeColors[api.value(2)]}};}});
  text('type',1,683.5,5.5,{weight:'bold',color:'#111'});
  text('MPS1',72,261,12.5,{weight:'bold',align:'center',color:'#111'});
  text('MPS2',188,261,12.5,{weight:'bold',align:'center',color:'#111'});
  text('MPS3',306,261,12.5,{weight:'bold',align:'center',color:'#111'});
  graphics.push({type:'rect',silent:true,shape:{x:567.7,y:271.7,width:5.6,height:58.3},
    style:{fill:new echarts.graphic.LinearGradient(0,0,0,1,[{offset:0,color:'#e81010'},{offset:.5,color:'#7a8a05'},{offset:1,color:'#04d804'}])}});
  colorbarTicks.forEach((t,i)=>text(t,575.5,278.3+i*8.33,5.5,{color:'#222'}));
  text('cluster',586.5,273.5,6.6,{weight:'bold',color:'#111'});
  ['MPS1','MPS2','MPS3'].forEach((n,i)=>{rect(586.7,277+i*6.67,10,6.67,clusterColors[i]);text(n,599,280.3+i*6.67,6.6);});
  text('type',586.5,303.5,6.6,{weight:'bold',color:'#111'});
  typeNames.forEach((n,i)=>{rect(586.7,307.3+i*6.67,10,6.67,typeColors[i]);text(n,599,310.7+i*6.67,6.6);});
})();

// ---------- Survival panels ----------
const plus='path://M4,0h2v4h4v2h-4v4h-2v-4h-4v-2h4z';
function stepValue(curve,t){let s=curve[0][1];for(const p of curve){if(p[0]<=t)s=p[1];else break;}return s;}
function survival(o){
  const axisLine={show:true,onZero:false,lineStyle:{color:'#333',width:1}};
  const tick={show:true,length:2,lineStyle:{color:'#333',width:.7}};
  const g=panel({left:o.left,top:o.top,width:o.width,height:o.height},
    {type:'value',min:o.xmin,max:o.xmax,axisLine,splitLine:{show:false},
      axisTick:Object.assign({},tick,{customValues:o.xticks}),
      axisLabel:{fontSize:5.5,fontStyle:'italic',color:'#333',fontFamily:FONT,margin:3,customValues:o.xticks},
      name:'Time',nameLocation:'middle',nameGap:7,nameTextStyle:{fontSize:6,color:'#222',fontFamily:FONT}},
    {type:'value',min:-.05,max:o.ymax,axisLine,splitLine:{show:false},
      axisTick:Object.assign({},tick,{customValues:shareTicks}),
      axisLabel:{fontSize:5.5,fontStyle:'italic',color:'#333',fontFamily:FONT,margin:3,customValues:shareTicks,formatter:v=>v.toFixed(2)},
      name:o.ylabel,nameLocation:'middle',nameGap:16,nameTextStyle:{fontSize:5.5,color:'#222',fontFamily:FONT}});
  o.curves.forEach((c,i)=>{
    series.push({type:'line',name:kmNames[i],silent:true,xAxisIndex:g,yAxisIndex:g,step:'end',showSymbol:false,data:c,
      lineStyle:{color:kmColors[i],width:1.3},itemStyle:{color:kmColors[i]}});
    series.push({type:'scatter',silent:true,xAxisIndex:g,yAxisIndex:g,symbol:plus,symbolSize:3.4,
      data:o.censors[i].map(t=>[t,stepValue(c,t)]),itemStyle:{color:kmColors[i]}});
  });
  if(o.extra)series.push({type:'line',silent:true,xAxisIndex:g,yAxisIndex:g,showSymbol:false,data:o.extra,lineStyle:{color:'#76b9bb',width:2.6}});
  text(o.p,o.px,o.py,7,{color:'#222'});
  text('Cluster',o.lx,o.ly,6.5,{color:'#222'});
  legends.push({left:o.lx+1,top:o.ly+4.7,orient:'vertical',selectedMode:false,itemWidth:6,itemHeight:3.4,itemGap:1.4,padding:0,
    icon:'path://M0,4.5h4.5v-3h1v3h4.5v1h-4.5v3h-1v-3h-4.5z',data:kmNames,
    textStyle:{fontSize:6.3,color:'#222',fontFamily:FONT,padding:0,lineHeight:5}});
}
const xsD=[0,50,100,150,200], xsG=[0,50,100], xsG2=[0,25,50,75,100];
survival({left:586.7,top:363.3,width:152.6,height:135,xmin:-9.4,xmax:208.6,ymax:1.04,xticks:xsD,ylabel:'OS (months)',
  curves:[osMPS1,osMPS2,osMPS3],censors:censorOs,p:'p = 0.0067',px:596.7,py:467.7,lx:695.5,ly:386});
survival({left:586.7,top:524.3,width:152.6,height:135,xmin:-9.4,xmax:208.6,ymax:1.04,xticks:xsD,ylabel:'DFS (months)',
  curves:[dfsMPS1,dfsMPS2,dfsMPS3],censors:censorDfs,p:'p = 0.067',px:596.7,py:629,lx:695.5,ly:547});
survival({left:415.7,top:861.7,width:150.3,height:136.6,xmin:-6.1,xmax:125.7,ymax:1.043,xticks:xsG,ylabel:'OS (months)',
  curves:[gOsMPS1,gOsMPS2,gOsMPS3],censors:censorGOs,p:'p = 0.069',px:426.7,py:967.7,lx:522.7,ly:884.7});
survival({left:617.3,top:861.7,width:149.4,height:136.6,xmin:-6.2,xmax:125.6,ymax:1.043,xticks:xsG2,ylabel:'DFS (months)',
  curves:[gDfsMPS1,gDfsMPS2,gDfsMPS3],censors:censorGDfs,p:'p = 0.6',px:626,py:967,lx:724,ly:884.7,extra:gDfsDrop});

// ---------- Stacked share panels ----------
function shares(o){
  const g=panel({left:o.left,top:o.top,width:o.width,height:o.height,show:true,backgroundColor:'#e8e8e8',borderWidth:0},
    {type:'value',min:-.05,max:1.05,splitLine:{show:false},axisLine:{show:false},
      axisTick:{show:true,length:2,lineStyle:{color:'#444'},customValues:shareTicks},
      axisLabel:{fontSize:o.tick,color:'#4d4d4d',fontFamily:FONT,margin:o.tickMargin||3,customValues:shareTicks,formatter:v=>v.toFixed(2)},
      name:o.xname||'',nameLocation:'middle',nameGap:o.nameGap||0,nameTextStyle:o.nameStyle||{}},
    {type:'category',data:mpsCategories,axisLine:{show:false},axisTick:{show:true,alignWithLabel:true,length:2,lineStyle:{color:'#444'}},
      axisLabel:{fontSize:o.cat,color:'#222',fontFamily:FONT,margin:3},
      name:o.yname||'',nameLocation:'middle',nameGap:o.ynameGap||0,nameTextStyle:{fontSize:6.5,color:'#222',fontFamily:FONT}});
  o.parts.forEach(p=>series.push({type:'bar',name:p[0],stack:'share'+g,silent:true,xAxisIndex:g,yAxisIndex:g,barWidth:'90%',data:p[1],itemStyle:{color:p[2]}}));
  text(o.title,o.lx,o.ty,o.tsize);
  legends.push({left:o.lx+(o.lxo||0),top:o.ltop,orient:'vertical',selectedMode:false,itemWidth:o.kw,itemHeight:o.kh,itemGap:o.kg,padding:0,icon:'rect',
    data:o.order,textStyle:{fontSize:o.lsize,color:'#333',fontFamily:FONT,padding:[0,0,0,o.lpad],lineHeight:o.kh}});
}
shares({left:38.3,top:700,width:144.4,height:86,tick:8,cat:10.5,title:'Histologic.Type',lx:194.7,ty:725.7,tsize:10.5,ltop:735,kw:11,kh:9.3,kg:.9,lsize:9,lpad:1,
  order:['Endometrioid endometrial adenocarcinoma','Mixed serous and endometrioid','Serous endometrial adenocarcinoma'],
  parts:[['Serous endometrial adenocarcinoma',typeSerous,'#0fa33f'],['Mixed serous and endometrioid',typeMixed,'#e60000'],['Endometrioid endometrial adenocarcinoma',typeEndo,'#003087']]});
shares({left:38.3,top:813.3,width:248.4,height:86,tick:8,cat:10.5,title:'Histologic.Grade',lx:297.7,ty:838.7,tsize:10.5,ltop:848,kw:11,kh:9.3,kg:.9,lsize:8.5,lpad:1,
  order:['G1','G2','G3'],
  parts:[['G3',gradeG3,'#6e8f58'],['G2',gradeG2,'#cb3b2a'],['G1',gradeG1,'#4a4de0']]});
shares({left:38.3,top:926.7,width:272.4,height:85.6,tick:8,cat:10.5,title:'FIGO.stage',lx:322.3,ty:946.7,tsize:10.5,ltop:956,kw:11,kh:9.3,kg:.9,lsize:8.5,lpad:1,
  order:['Stage I','Stage II','Stage III','Stage IV'],
  parts:[['Stage IV',stageIV,'#d0504a'],['Stage III',stageIII,'#868686'],['Stage II',stageII,'#fdb90a'],['Stage I',stageI,'#0050a8']]});
text('Percentage',154,1029,13.5,{weight:'bold',align:'center',color:'#111'});
shares({left:489.3,top:688.3,width:170.7,height:123.4,tick:5.5,cat:6.5,tickMargin:2,title:'IntegrativeCluster',lx:668.3,ty:738,tsize:6.5,ltop:743,kw:7.7,kh:5.6,kg:0,lsize:6,lpad:0,lxo:.7,
  xname:'count',nameGap:6.5,nameStyle:{fontSize:6.5,color:'#222',fontFamily:FONT},yname:'MPS',ynameGap:24,
  order:['CN high','CN low','MSI','POLE'],
  parts:[['POLE',icPole,'#0f9ed5'],['MSI',icMsi,'#4da854'],['CN low',icCnLow,'#ffa020'],['CN high',icCnHigh,'#d63a32']]});

const chart=echarts.init(document.getElementById('c'),null,{renderer:'canvas',width:768,height:1037});
chart.setOption({animation:false,backgroundColor:'#fff',textStyle:{fontFamily:FONT},tooltip:{show:false},
  grid:grids,xAxis:xs,yAxis:ys,series,legend:legends,visualMap:visualMaps,graphic:{elements:graphics}});
</script></body></html>
